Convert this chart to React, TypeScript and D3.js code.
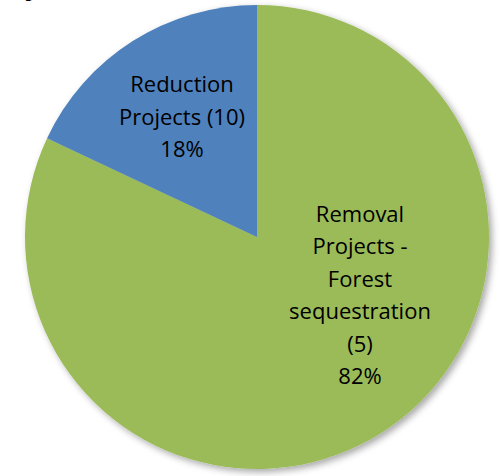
import * as d3 from "d3";

const categories = ["Removal Projects - Forest sequestration (5)", "Reduction Projects (10)"];
const shares = [82, 18];
const colors = ["#9BBB59", "#4F81BD"];
const labelLines = [
  ["Removal", "Projects -", "Forest", "sequestration", "(5)", "82%"],
  ["Reduction", "Projects (10)", "18%"],
];

const W = 500;
const H = 476;
const cx = 257;
const cy = 237;
const R = 232;
const lineH = 32.5;

export default function App() {
  const pie = d3
    .pie<number>()
    .sort(null)
    .value((d) => d);
  const arcs = pie(shares);
  const arc = d3.arc<d3.PieArcDatum<number>>().innerRadius(0).outerRadius(R);

  // label centres, Excel "best fit" style
  const labelArc = d3.arc<d3.PieArcDatum<number>>().innerRadius(0).outerRadius(2 * 140);
  const labelPos = arcs.map((a, i) => {
    if (i === 1) return labelArc.centroid(a);
    return [103, 60];
  });

  return (
    <svg
      width={W}
      height={H}
      style={{ position: "fixed", left: 0, top: 0, background: "white" }}
    >
      <defs>
        <filter id="sh" x="-10%" y="-10%" width="120%" height="120%">
          <feDropShadow dx="3" dy="3" stdDeviation="3.5" floodColor="#000" floodOpacity="0.35" />
        </filter>
      </defs>
      {/* descender of a title cropped off the top */}
      <text x={25} y={-6} fontFamily="Open Sans" fontWeight="bold" fontSize={28} fill="#000">
        y
      </text>
      <g transform={`translate(${cx},${cy})`}>
        <g filter="url(#sh)">
          {arcs.map((a, i) => (
            <path key={categories[i]} d={arc(a) || ""} fill={colors[i]} />
          ))}
        </g>
        {arcs.map((a, i) => {
          const lines = labelLines[i];
          const [lx, ly] = labelPos[i];
          const y0 = ly - ((lines.length - 1) * lineH) / 2 + 6;
          return (
            <text
              key={i}
              textAnchor="middle"
              fontFamily="Open Sans"
              fontSize={22}
              fill="#000"
            >
              {lines.map((t, j) => (
                <tspan key={j} x={lx} y={y0 + j * lineH}>
                  {t}
                </tspan>
              ))}
            </text>
          );
        })}
      </g>
    </svg>
  );
}
